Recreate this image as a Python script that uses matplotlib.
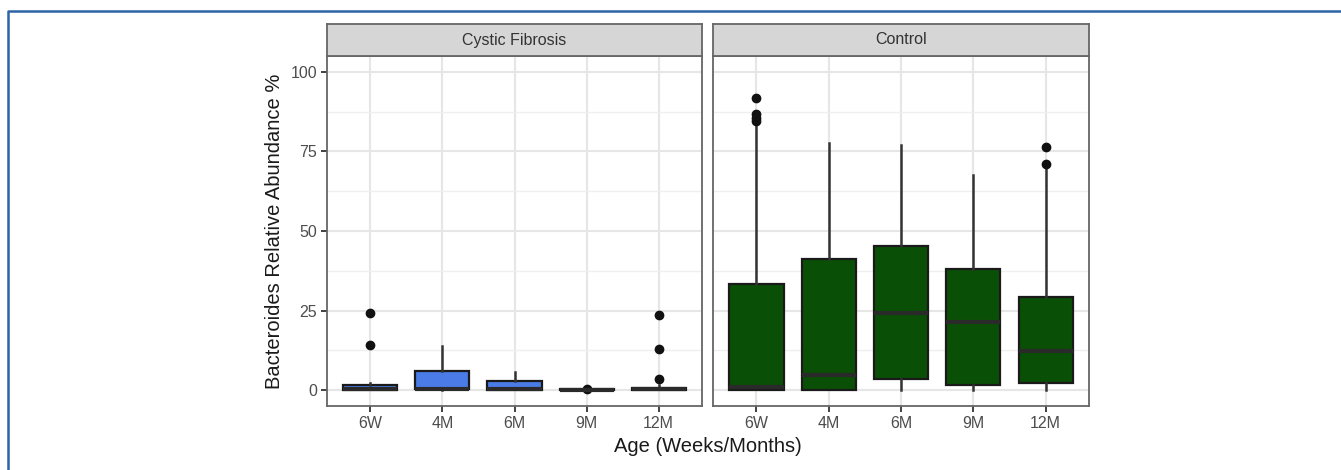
import matplotlib.pyplot as plt
from matplotlib.lines import Line2D

plt.rcParams['font.family'] = ['Liberation Sans', 'DejaVu Sans']

ages = ["6W", "4M", "6M", "9M", "12M"]
groups = ["Cystic Fibrosis", "Control"]

# box stats: lower whisker, q1, median, q3, upper whisker
cf_whislo = [0.0, 0.0, 0.0, 0.0, 0.0]
cf_q1 = [0.0, 0.2, 0.0, 0.0, 0.0]
cf_med = [0.3, 0.5, 0.3, 0.1, 0.2]
cf_q3 = [1.5, 5.9, 2.8, 0.4, 0.7]
cf_whishi = [2.1, 13.8, 5.8, 0.5, 1.5]
cf_fliers = [[24.1, 14.2], [], [], [0.5], [23.5, 12.8, 3.6]]

ctl_whislo = [0.0, 0.0, 0.0, 0.0, 0.0]
ctl_q1 = [0.0, 0.0, 3.4, 1.5, 2.3]
ctl_med = [1.0, 4.7, 24.3, 21.3, 12.3]
ctl_q3 = [33.4, 41.1, 45.3, 38.0, 29.4]
ctl_whishi = [84.0, 77.6, 77.1, 67.5, 69.5]
ctl_fliers = [[91.8, 86.9, 85.4, 84.5], [], [], [], [76.3, 71.2]]

cf_color = "#4A7BE6"
ctl_color = "#0A4F06"

fig = plt.figure(figsize=(13.41, 4.70), dpi=100)

W, H = 1341, 470
def fx(px):
    return px / W
def fy(py):
    return 1 - py / H

panels = [
    (327, 702, groups[0], cf_color, cf_whislo, cf_q1, cf_med, cf_q3, cf_whishi, cf_fliers),
    (713, 1089, groups[1], ctl_color, ctl_whislo, ctl_q1, ctl_med, ctl_q3, ctl_whishi, ctl_fliers),
]

axes = []
for i, (x0, x1, title, col, wlo, q1, med, q3, whi, fl) in enumerate(panels):
    ax = fig.add_axes([fx(x0), fy(406), fx(x1 - x0), fy(56) - fy(406)])
    stats = []
    for j in range(len(ages)):
        stats.append(dict(whislo=wlo[j], q1=q1[j], med=med[j], q3=q3[j],
                          whishi=whi[j], fliers=fl[j], label=ages[j]))
    ax.bxp(stats, positions=range(1, 6), widths=0.75, patch_artist=True,
           showcaps=False,
           boxprops=dict(facecolor=col, edgecolor="#1A1A1A", linewidth=1.6),
           medianprops=dict(color="#2A2A2A", linewidth=3.0),
           whiskerprops=dict(color="#333333", linewidth=1.8),
           flierprops=dict(marker="o", markerfacecolor="#111111", markeredgecolor="#111111",
                           markersize=6),
           zorder=3)
    ax.set_xlim(0.4, 5.6)
    ax.set_ylim(-5, 105)
    ax.set_yticks([0, 25, 50, 75, 100])
    ax.set_yticks([12.5, 37.5, 62.5, 87.5], minor=True)
    ax.set_xticks(range(1, 6))
    ax.set_xticklabels(ages)
    ax.grid(True, which="major", color="#E6E6E6", linewidth=1.5, zorder=0)
    ax.grid(True, which="minor", axis="y", color="#EFEFEF", linewidth=1.0, zorder=0)
    ax.set_axisbelow(True)
    for s in ax.spines.values():
        s.set_color("#666666")
        s.set_linewidth(1.3)
    ax.tick_params(axis="both", which="major", length=4, width=1.3, color="#333333",
                   labelsize=11.5, labelcolor="#4D4D4D", pad=3)
    ax.tick_params(axis="y", which="minor", length=0)
    if i > 0:
        ax.tick_params(axis="y", which="major", labelleft=False, length=0)
    # facet strip
    sax = fig.add_axes([fx(x0), fy(56), fx(x1 - x0), fy(24) - fy(56)])
    sax.set_facecolor("#D6D6D6")
    sax.set_xticks([])
    sax.set_yticks([])
    for s in sax.spines.values():
        s.set_color("#666666")
        s.set_linewidth(1.3)
    sax.text(0.5, 0.5, title, ha="center", va="center", fontsize=11.5, color="#333333",
             transform=sax.transAxes)
    axes.append(ax)

axes[0].set_ylabel("Bacteroides Relative Abundance %", fontsize=14.5, color="#1A1A1A",
                   labelpad=5)
fig.text(fx(708), fy(446), "Age (Weeks/Months)", ha="center", va="center",
         fontsize=14.5, color="#1A1A1A")

# outer frame
fig.add_artist(Line2D([fx(8), fx(8), 1.0], [0.0, fy(10.5), fy(10.5)],
                      transform=fig.transFigure, color="#2E63A6", linewidth=1.8))

fig.savefig("out.png", dpi=100)
